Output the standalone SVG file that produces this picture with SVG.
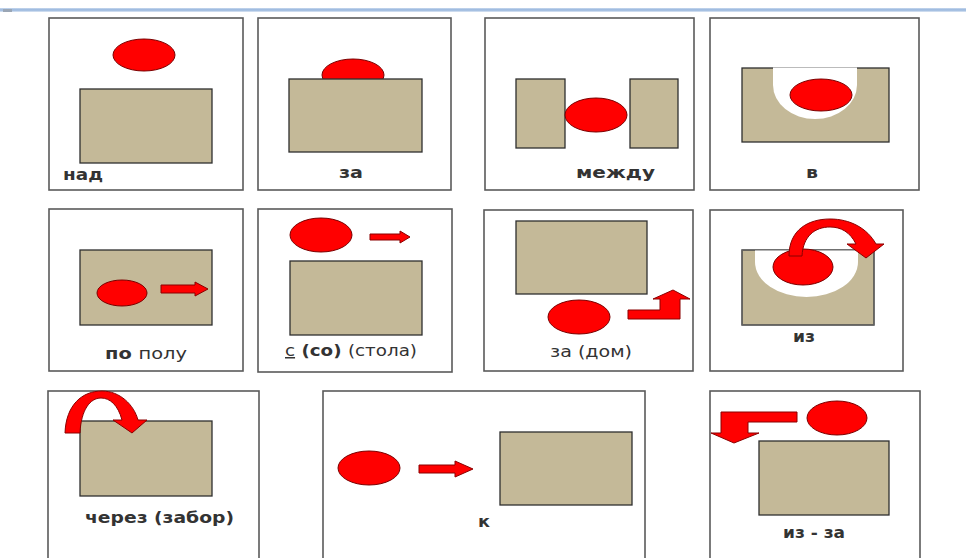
<svg xmlns="http://www.w3.org/2000/svg" width="966" height="558" viewBox="0 0 966 558">
<style>
.card{fill:#fff;stroke:#5a5a5a;stroke-width:1.6}
.box{fill:#c4b998;stroke:#2e2e2e;stroke-width:1.3}
.ball{fill:#ff0000;stroke:#7a0000;stroke-width:1}
.arr{fill:#ff0000;stroke:#8a0000;stroke-width:1}
.hole{fill:#fff}
.lbl{font-family:"DejaVu Sans","Liberation Sans",sans-serif;font-size:15px;font-weight:bold;fill:#333}
.thin{font-weight:normal}
</style>
<defs>
<linearGradient id="bar" x1="0" y1="0" x2="0" y2="1">
<stop offset="0" stop-color="#c9d9ee"/>
<stop offset="0.5" stop-color="#93b3dc"/>
<stop offset="1" stop-color="#dfe8f4"/>
</linearGradient>
</defs>
<rect x="0" y="0" width="966" height="558" fill="#fff"/>
<rect x="0" y="8" width="966" height="4" fill="url(#bar)"/>
<rect x="3" y="9" width="9" height="3" fill="#9aa6b5"/>

<g id="nad">
<rect class="card" x="49" y="18" width="194" height="172"/>
<ellipse class="ball" cx="144" cy="55" rx="31" ry="16"/>
<rect class="box" x="80" y="89" width="132" height="74"/>
<text class="lbl" x="63" y="180" textLength="40" lengthAdjust="spacingAndGlyphs">над</text>
</g>

<g id="za">
<rect class="card" x="258" y="18" width="193" height="172"/>
<ellipse class="ball" cx="353" cy="75" rx="31" ry="16"/>
<rect class="box" x="289" y="79" width="133" height="73"/>
<text class="lbl" x="339" y="178" textLength="24" lengthAdjust="spacingAndGlyphs">за</text>
</g>

<g id="mezhdu">
<rect class="card" x="485" y="18" width="209" height="172"/>
<rect class="box" x="516" y="79" width="49" height="69"/>
<rect class="box" x="630" y="79" width="48" height="69"/>
<ellipse class="ball" cx="596" cy="115" rx="31" ry="17"/>
<text class="lbl" x="576" y="178" textLength="79" lengthAdjust="spacingAndGlyphs">между</text>
</g>

<g id="v">
<rect class="card" x="710" y="18" width="209" height="172"/>
<rect class="box" x="742" y="68" width="147" height="74"/>
<path class="hole" d="M773 67.5 L773 85 A42 34 0 0 0 857 85 L857 67.5 Z"/>
<ellipse class="ball" cx="821" cy="95" rx="31" ry="16"/>
<text class="lbl" x="806" y="178" textLength="12" lengthAdjust="spacingAndGlyphs">в</text>
</g>

<g id="po">
<rect class="card" x="49" y="209" width="194" height="162"/>
<rect class="box" x="80" y="250" width="132" height="75"/>
<ellipse class="ball" cx="122" cy="293" rx="25" ry="13"/>
<polygon class="arr" points="161,285 195,285 195,282 208,289 195,296 195,293 161,293"/>
<text class="lbl" x="105" y="359" textLength="82" lengthAdjust="spacingAndGlyphs">по <tspan class="thin">полу</tspan></text>
</g>

<g id="s">
<rect class="card" x="258" y="209" width="194" height="163"/>
<ellipse class="ball" cx="321" cy="235" rx="31" ry="17"/>
<polygon class="arr" points="370,234 400,234 400,231 410,237 400,243 400,240 370,240"/>
<rect class="box" x="290" y="261" width="132" height="74"/>
<text class="lbl" x="285" y="356" textLength="132" lengthAdjust="spacingAndGlyphs"><tspan class="thin" text-decoration="underline">с</tspan> (со) <tspan class="thin">(стола)</tspan></text>
</g>

<g id="za-dom">
<rect class="card" x="484" y="210" width="209" height="161"/>
<rect class="box" x="516" y="221" width="131" height="73"/>
<ellipse class="ball" cx="579" cy="317" rx="31" ry="17"/>
<polygon class="arr" points="628,310 660,310 660,299 653,299 673,290 690,299 680,299 680,319 628,319"/>
<text class="lbl thin" x="550" y="357" textLength="82" lengthAdjust="spacingAndGlyphs">за (дом)</text>
</g>

<g id="iz">
<rect class="card" x="710" y="210" width="193" height="161"/>
<rect class="box" x="742" y="250" width="132" height="75"/>
<path class="hole" d="M755 250 L755 262 A51.5 35 0 0 0 858 262 L858 250 Z"/>
<rect x="742" y="250" width="132" height="75" fill="none" stroke="#6b6b6b" stroke-width="1"/>
<ellipse class="ball" cx="803" cy="267" rx="30" ry="18"/>
<path class="arr" d="M789 256 C789 230 808 219 830 219 C850 219 867 228 876 244 L884 244 L866 258 L847 244 L856 244 C850 232 841 227 830 227 C815 227 803 236 802 256 Z"/>
<text class="lbl" x="793" y="342" textLength="22" lengthAdjust="spacingAndGlyphs">из</text>
</g>

<g id="cherez">
<rect class="card" x="48" y="391" width="211" height="180"/>
<rect class="box" x="80" y="421" width="132" height="75"/>
<path class="arr" d="M65 433 C66 405 82 391 102 391 C120 391 134 405 138 420 L147 420 L132 433 L113 420 L122 420 C118 405 110 398 101 398 C90 398 81 410 80 433 Z"/>
<text class="lbl" x="85" y="523" textLength="149" lengthAdjust="spacingAndGlyphs">через (забор)</text>
</g>

<g id="k">
<rect class="card" x="323" y="391" width="322" height="180"/>
<ellipse class="ball" cx="369" cy="468" rx="31" ry="17"/>
<polygon class="arr" points="419,465 455,465 455,461 473,469 455,477 455,473 419,473"/>
<rect class="box" x="500" y="432" width="132" height="73"/>
<text class="lbl" x="478" y="527" textLength="12" lengthAdjust="spacingAndGlyphs">к</text>
</g>

<g id="iz-za">
<rect class="card" x="710" y="391" width="210" height="180"/>
<ellipse class="ball" cx="837" cy="418" rx="30" ry="17"/>
<polygon class="arr" points="797,412 721,412 721,433 711,433 734,443 759,433 748,433 748,422 797,422"/>
<rect class="box" x="759" y="441" width="130" height="74"/>
<text class="lbl" x="783" y="538" textLength="62" lengthAdjust="spacingAndGlyphs">из - за</text>
</g>

<g id="connectors"></g>
</svg>
